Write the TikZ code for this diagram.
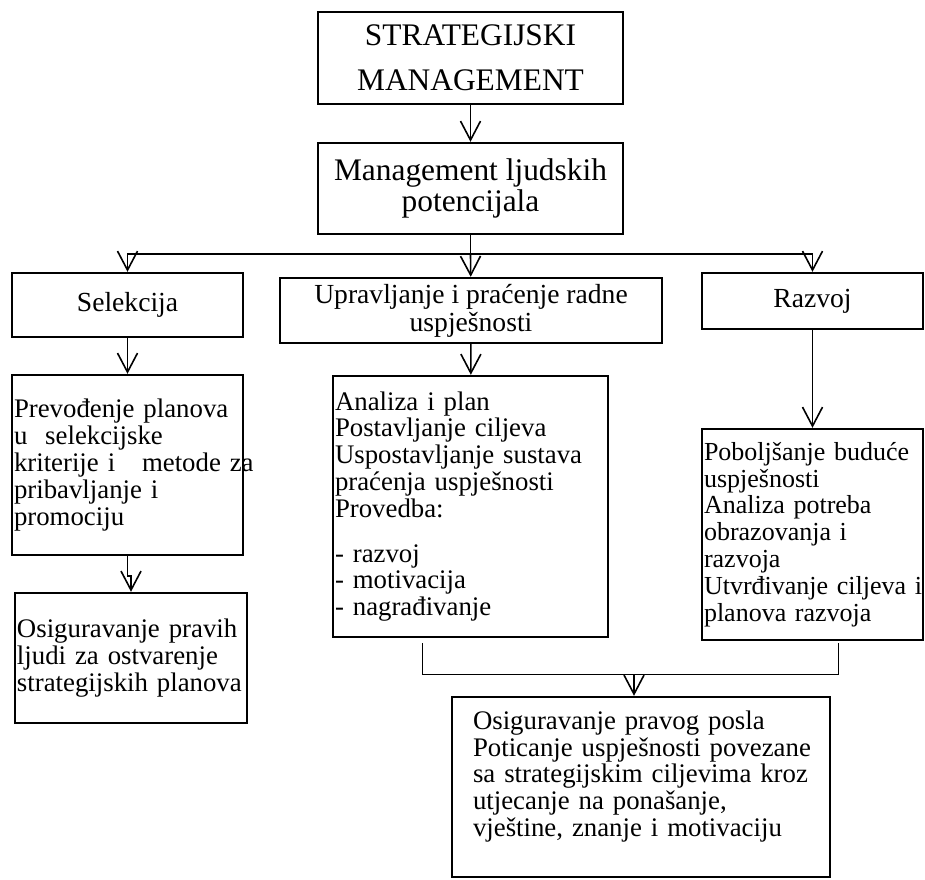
\documentclass[tikz,border=0pt]{standalone}
\usepackage{fontspec}
\setmainfont{Liberation Serif}
\usetikzlibrary{arrows.meta}
\hyphenpenalty=10000
\exhyphenpenalty=10000

\begin{document}
\begin{tikzpicture}[x=0.5pt,y=-0.5pt,>={Straight Barb[length=9.5pt,width=10pt]}]
	\tikzstyle{box}=[draw,line width=1.2pt,shape=rectangle,inner sep=1pt]
	\tikzstyle{head}=[box,align=center,font=\fontsize{13.8}{14}\selectfont]
	\tikzstyle{body}=[box,align=left,font=\fontsize{13.4}{13.4}\selectfont]
	\tikzstyle{link}=[line width=0.8pt]

	\useasboundingbox (0,0) rectangle (925,879);

	\node[head,minimum width=152.5pt,minimum height=46pt,font=\fontsize{15.7}{22.5}\selectfont](strat) at (470.5,58){STRATEGIJSKI\\MANAGEMENT};
	\node[head,minimum width=152.5pt,minimum height=45.5pt,font=\fontsize{15.7}{15.5}\selectfont](mgmt) at (470.5,188.5){Management ljudskih\\potencijala};

	\node[head,minimum width=115.5pt,minimum height=32pt](sel) at (127.5,305){Selekcija};
	\node[head,minimum width=191pt,minimum height=32.5pt](upr) at (471,310.5){Upravljanje i praćenje radne\\uspješnosti};
	\node[head,minimum width=110.5pt,minimum height=28pt](raz) at (812.5,301){Razvoj};

	\node[body,text width=113.5pt,minimum height=90pt](prev) at (127.5,465){Prevođenje planova\\u~~selekcijske\\kriterije~i~~~metode~za\\pribavljanje i\\promociju};
	\node[body,text width=114pt,minimum height=65pt](osig) at (131,658){Osiguravanje pravih\\ljudi za ostvarenje\\strategijskih~planova};
	\node[body,text width=135.5pt,minimum height=130.5pt](anal) at (470.5,506.5){Analiza i plan\\Postavljanje ciljeva\\Uspostavljanje sustava\\praćenja uspješnosti\\Provedba:\\[9pt]- razvoj\\- motivacija\\- nagrađivanje};
	\node[body,text width=108.5pt,minimum height=105.5pt,font=\fontsize{13}{13.4}\selectfont](pob) at (812.5,534.5){Poboljšanje buduće\\uspješnosti\\Analiza potreba\\obrazovanja i\\razvoja\\Utvrđivanje~ciljeva~i\\planova razvoja};
	\node[body,inner xsep=10.5pt,text width=168pt,minimum height=90pt](bot) at (641,787){Osiguravanje pravog posla\\Poticanje~uspješnosti~povezane\\sa strategijskim ciljevima kroz\\utjecanje na ponašanje,\\vještine, znanje i motivaciju\\\mbox{}};

	\coordinate (split) at (470.5,254);
	\coordinate (lb) at (422,643);
	\coordinate (rb) at (838,643);
	\coordinate (join) at (634,674);

	\draw[link,->] (strat) -- (mgmt);
	\draw[link] (mgmt) -- (split);
	\draw[link,->] (split) -| (sel);
	\draw[link,->] (split) -- (upr);
	\draw[link,->] (split) -| (raz);

	\draw[link,->] (sel) -- (prev);
	\draw[link,->] (prev.south) -- ++(0,20) -| (osig.north);
	\draw[link,->] (upr) -- (anal);
	\draw[link,->] (raz) -- (pob);

	\draw[line width=0.5pt] (lb) |- (join) -| (rb);
	\draw[link,->] (join) -- (join |- bot.north);

\end{tikzpicture}
\end{document}
